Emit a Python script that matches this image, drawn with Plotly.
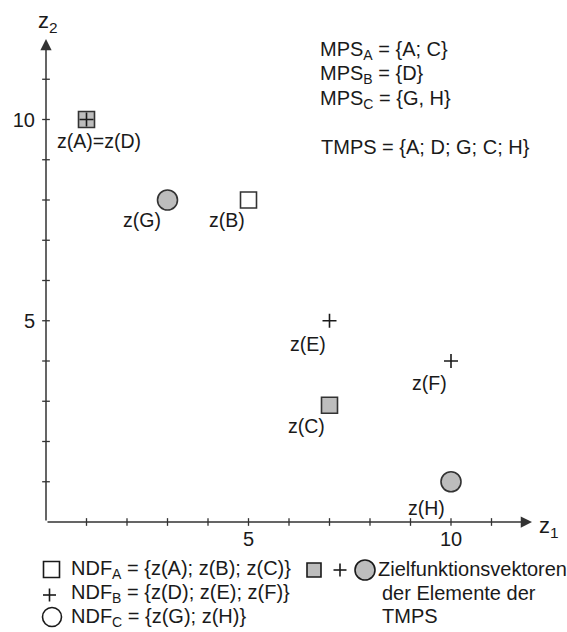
import plotly.graph_objects as go

# ---------------- data ----------------
point_names = ["A", "B", "C", "D", "E", "F", "G", "H"]
z1_values = [1, 5, 7, 1, 7, 10, 3, 10]
z2_values = [10, 8, 2.9, 10, 5, 4, 8, 1]
ndf_set = ["A", "A", "A", "B", "B", "B", "C", "C"]
tmps = ["A", "D", "G", "C", "H"]
mps_lines = ["MPS<sub>A</sub> = {A; C}", "MPS<sub>B</sub> = {D}", "MPS<sub>C</sub> = {G, H}"]
tmps_line = "TMPS = {A; D; G; C; H}"
legend_texts = ["NDF<sub>A</sub> = {z(A); z(B); z(C)}",
                "NDF<sub>B</sub> = {z(D); z(E); z(F)}",
                "NDF<sub>C</sub> = {z(G); z(H)}"]
tmps_legend_lines = ["Zielfunktionsvektoren", "der Elemente der", "TMPS"]
minor_ticks = list(range(1, 12))
tick_vals = [5, 10]
tick_text = ["5", "10"]
axis_max = 12

# ---------------- style ----------------
FONT = "Arial, Liberation Sans, sans-serif"
FS = 20
FS_LBL = 19.5
INK = "#1a1a1a"
EDGE = "#333333"
GRAY = "#bdbdbd"
W, H = 567, 632
ML, MR, MT, MB = 46, 35, 39, 110
PW, PH = W - ML - MR, H - MT - MB

def px_x(p):
    return (p - ML) / PW

def px_y(p):
    return (H - MB - p) / PH

# label offsets (pixels) per point: (xanchor, xshift, yshift)
label_style = {
    "A": ("left", -32, -21),
    "B": ("right", -2, -20),
    "C": ("right", -3, -21),
    "E": ("right", -2, -23),
    "F": ("right", -2, -22),
    "G": ("right", -5, -20),
    "H": ("right", -4, -26),
}

fig = go.Figure()

# crossing ticks on both axes
fig.add_trace(go.Scatter(x=minor_ticks, y=[0] * len(minor_ticks), mode="markers",
                         marker=dict(symbol="line-ns", size=5.5, line=dict(width=1.3, color=EDGE)),
                         cliponaxis=False, hoverinfo="skip", showlegend=False))
fig.add_trace(go.Scatter(x=[0] * len(minor_ticks), y=minor_ticks, mode="markers",
                         marker=dict(symbol="line-ew", size=5.5, line=dict(width=1.3, color=EDGE)),
                         cliponaxis=False, hoverinfo="skip", showlegend=False))

symbol_for = {"A": "square", "B": "cross-thin", "C": "circle"}
size_for = {"A": 16, "B": 10, "C": 20}

# draw NDF_A and NDF_C first, NDF_B (plus) on top
for s in ["A", "C", "B"]:
    xs, ys, fills = [], [], []
    for n, x, y, m in zip(point_names, z1_values, z2_values, ndf_set):
        if m != s:
            continue
        xs.append(x)
        ys.append(y)
        fills.append(GRAY if n in tmps else "white")
    fig.add_trace(go.Scatter(
        x=xs, y=ys, mode="markers", cliponaxis=False, showlegend=False,
        marker=dict(symbol=symbol_for[s], size=size_for[s], color=fills,
                    line=dict(width=1.6, color=EDGE if s != "B" else INK))))

# point labels (coincident points merged)
seen = {}
for n, x, y in zip(point_names, z1_values, z2_values):
    seen.setdefault((x, y), []).append(n)
for (x, y), names in seen.items():
    text = "=".join(f"z({n})" for n in names)
    xa, xs_, ys_ = label_style[names[0]]
    fig.add_annotation(x=x, y=y, text=text, showarrow=False, xanchor=xa, yanchor="middle",
                       xshift=xs_, yshift=ys_, font=dict(family=FONT, size=FS_LBL, color=INK))

# axes with arrows
fig.add_annotation(x=axis_max, y=0, ax=0, ay=0, axref="x", ayref="y", xref="x", yref="y",
                   text="", showarrow=True, arrowhead=2, arrowsize=1.5, arrowwidth=1.5,
                   arrowcolor=EDGE, standoff=0)
fig.add_annotation(x=0, y=axis_max, ax=0, ay=0, axref="x", ayref="y", xref="x", yref="y",
                   text="", showarrow=True, arrowhead=2, arrowsize=1.5, arrowwidth=1.5,
                   arrowcolor=EDGE, standoff=0)
fig.add_annotation(xref="paper", yref="paper", x=px_x(537), y=px_y(527), text="z<sub>1</sub>",
                   showarrow=False, xanchor="left", yanchor="middle",
                   font=dict(family=FONT, size=22, color=INK))
fig.add_annotation(xref="paper", yref="paper", x=px_x(36), y=px_y(22), text="z<sub>2</sub>",
                   showarrow=False, xanchor="left", yanchor="middle",
                   font=dict(family=FONT, size=22, color=INK))

# MPS text block
for i, t in enumerate(mps_lines):
    fig.add_annotation(xref="paper", yref="paper", x=px_x(318), y=px_y(50 + 24.5 * i), text=t,
                       showarrow=False, xanchor="left", yanchor="middle",
                       font=dict(family=FONT, size=FS, color=INK))
fig.add_annotation(xref="paper", yref="paper", x=px_x(319), y=px_y(147), text=tmps_line,
                   showarrow=False, xanchor="left", yanchor="middle",
                   font=dict(family=FONT, size=FS, color=INK))

# custom legend
shapes = []
def sq(cx, cy, s, fill):
    shapes.append(dict(type="rect", xref="paper", yref="paper",
                       x0=px_x(cx - s / 2), x1=px_x(cx + s / 2), y0=px_y(cy + s / 2), y1=px_y(cy - s / 2),
                       line=dict(color=INK, width=1.6), fillcolor=fill))
def circ(cx, cy, d, fill):
    shapes.append(dict(type="circle", xref="paper", yref="paper",
                       x0=px_x(cx - d / 2), x1=px_x(cx + d / 2), y0=px_y(cy + d / 2), y1=px_y(cy - d / 2),
                       line=dict(color=INK, width=1.6), fillcolor=fill))
def plus(cx, cy, s):
    shapes.append(dict(type="line", xref="paper", yref="paper", x0=px_x(cx - s / 2), x1=px_x(cx + s / 2),
                       y0=px_y(cy), y1=px_y(cy), line=dict(color=INK, width=1.6)))
    shapes.append(dict(type="line", xref="paper", yref="paper", x0=px_x(cx), x1=px_x(cx),
                       y0=px_y(cy - s / 2), y1=px_y(cy + s / 2), line=dict(color=INK, width=1.6)))

sq(51.5, 569.5, 16, "white")
plus(49.5, 595, 13)
circ(52, 617, 19, "white")
sq(314, 570, 14, GRAY)
plus(340, 570, 13)
circ(365, 570, 20, GRAY)

for i, t in enumerate(legend_texts):
    fig.add_annotation(xref="paper", yref="paper", x=px_x(69), y=px_y(569 + 24 * i), text=t,
                       showarrow=False, xanchor="left", yanchor="middle",
                       font=dict(family=FONT, size=FS, color=INK))
for i, t in enumerate(tmps_legend_lines):
    fig.add_annotation(xref="paper", yref="paper", x=px_x(376 if i == 0 else 380), y=px_y(569 + 23.5 * i),
                       text=t, showarrow=False, xanchor="left", yanchor="middle",
                       font=dict(family=FONT, size=FS, color=INK))

fig.update_layout(
    width=W, height=H, margin=dict(l=ML, r=MR, t=MT, b=MB),
    paper_bgcolor="white", plot_bgcolor="white", shapes=shapes,
    font=dict(family=FONT, size=FS, color=INK),
    xaxis=dict(range=[0, axis_max], showgrid=False, zeroline=False, showline=False,
               tickvals=tick_vals, ticktext=tick_text, ticks="", ticklabelstandoff=3,
               tickfont=dict(family=FONT, size=FS, color=INK), fixedrange=True),
    yaxis=dict(range=[0, axis_max], showgrid=False, zeroline=False, showline=False,
               tickvals=tick_vals, ticktext=tick_text, ticks="", ticklabelstandoff=10,
               tickfont=dict(family=FONT, size=FS, color=INK), fixedrange=True),
    showlegend=False,
)

fig.write_html("out.html", config={"displayModeBar": False},
               post_script="document.body.style.margin='0px';")
